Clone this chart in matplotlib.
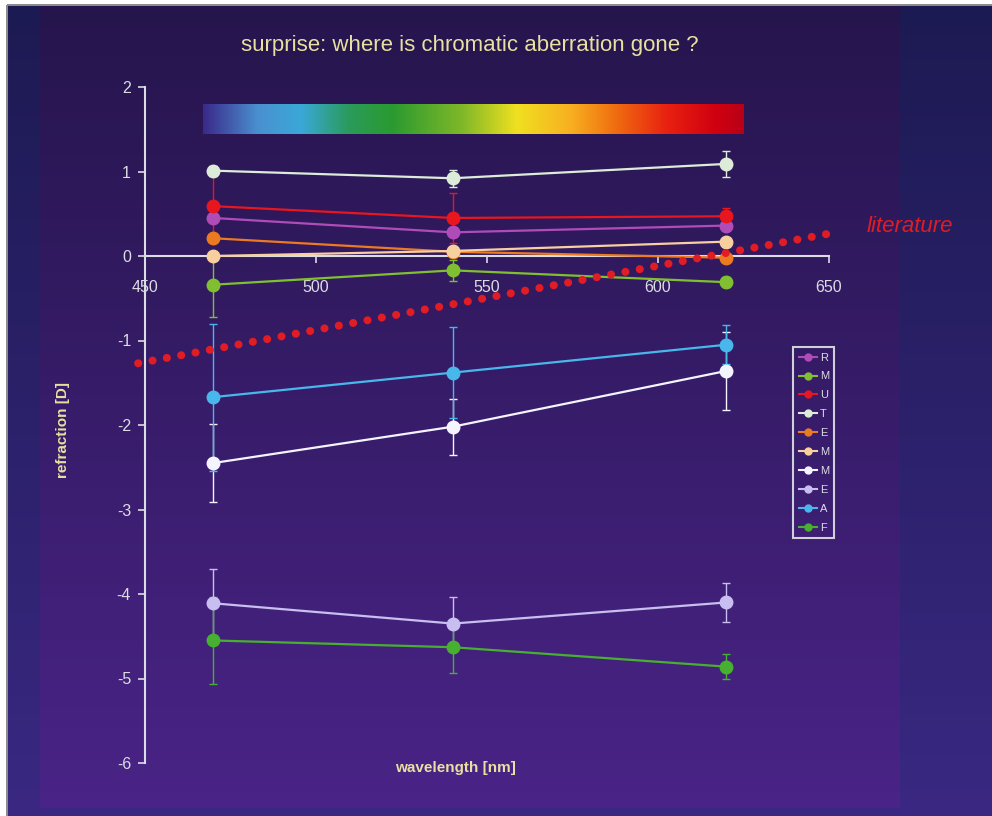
import numpy as np
import matplotlib
matplotlib.use("Agg")
import matplotlib.pyplot as plt
from matplotlib.colors import LinearSegmentedColormap, to_rgb
from matplotlib.lines import Line2D

plt.rcParams['font.family'] = ['Liberation Sans', 'DejaVu Sans']
plt.rcParams['axes.unicode_minus'] = False

# Data
wavelength = [470, 540, 620]
labels = ['R', 'M', 'U', 'T', 'E', 'M', 'M', 'E', 'A', 'F']
colors = ['#b04cb8', '#80c030', '#e8161e', '#dcecd8', '#ec7a20',
          '#f8d0a0', '#f4f4ff', '#c8bef0', '#48b8ec', '#48b030']
values = [
    [0.45, 0.28, 0.36],
    [-0.34, -0.17, -0.31],
    [0.59, 0.45, 0.47],
    [1.01, 0.92, 1.09],
    [0.21, 0.05, -0.02],
    [0.00, 0.06, 0.17],
    [-2.45, -2.02, -1.36],
    [-4.11, -4.35, -4.10],
    [-1.67, -1.38, -1.05],
    [-4.55, -4.63, -4.86],
]
errors = [
    [0.05, 0.05, 0.05],
    [0.38, 0.12, 0.06],
    [0.42, 0.30, 0.10],
    [0.06, 0.10, 0.15],
    [0.04, 0.04, 0.04],
    [0.04, 0.04, 0.04],
    [0.46, 0.33, 0.46],
    [0.41, 0.31, 0.23],
    [0.87, 0.54, 0.23],
    [0.51, 0.31, 0.15],
]
# literature line (end points)
lit_x = [448, 652]
lit_y = [-1.27, 0.28]

txt_col = '#e8e0a0'
tick_col = '#dcdce4'

fig = plt.figure(figsize=(9.92, 8.16), dpi=100, facecolor='white')

# background slide (gradient)
H, W = 816, 992
img = np.ones((H, W, 3))
t = np.linspace(0, 1, H)[:, None]
outer_top, outer_bot = np.array(to_rgb('#1c1a52')), np.array(to_rgb('#3a2882'))
panel_top, panel_bot = np.array(to_rgb('#25154c')), np.array(to_rgb('#4a2488'))
outer = outer_top + (outer_bot - outer_top) * t
panel = panel_top + (panel_bot - panel_top) * t
img[5:, 7:, :] = outer[5:, None, :]
img[5:808, 40:900, :] = panel[5:808, None, :]
img[4:6, 7:, :] = 0.55
img[5:, 6:8, :] = 0.55
bg = fig.add_axes([0, 0, 1, 1], zorder=-1)
bg.imshow(img, extent=[0, 1, 0, 1], aspect='auto')
bg.axis('off')

ax = fig.add_axes([145 / 992, 1 - 763 / 816, 684 / 992, 676 / 816])
ax.set_facecolor('none')
ax.set_xlim(450, 650)
ax.set_ylim(-6, 2)

# rainbow bar
rainbow = LinearSegmentedColormap.from_list('spec', [
    (0.00, '#3a2a8a'), (0.10, '#4a90d0'), (0.18, '#3aa8d8'), (0.27, '#2a9a5a'),
    (0.35, '#2a9a30'), (0.48, '#80b828'), (0.58, '#f0e020'), (0.68, '#f8b020'),
    (0.76, '#f07010'), (0.86, '#e82010'), (0.95, '#d00010'), (1.00, '#b80018')])
ax.imshow(np.linspace(0, 1, 256)[None, :], cmap=rainbow, aspect='auto',
          extent=[467, 625, 1.44, 1.79], zorder=1)

# series
for lab, col, val, err in zip(labels, colors, values, errors):
    ax.errorbar(wavelength, val, yerr=err, color=col, lw=1.6, marker='o', ms=9,
                elinewidth=1, capsize=3, capthick=1, zorder=3, label=lab)

# literature
ax.plot(lit_x, lit_y, color='#e01c24', lw=5.8, dashes=(0.01, 1.8),
        dash_capstyle='round', clip_on=False, zorder=4)
fig.text(0.917, 1 - 227 / 816, 'literature', color='#e01c24', fontsize=16,
         style='italic', ha='center', va='center')

# axes styling
for s in ['top', 'right']:
    ax.spines[s].set_visible(False)
ax.spines['bottom'].set_position(('data', 0))
ax.spines['bottom'].set_color(tick_col)
ax.spines['left'].set_color(tick_col)
ax.spines['bottom'].set_linewidth(1.5)
ax.spines['left'].set_linewidth(1.5)
ax.set_xticks([450, 500, 550, 600, 650])
ax.set_yticks([-6, -5, -4, -3, -2, -1, 0, 1, 2])
ax.tick_params(axis='x', colors=tick_col, labelsize=11.5, direction='out',
               length=5, pad=12, width=1.2)
ax.tick_params(axis='y', colors=tick_col, labelsize=11.5, direction='out',
               length=5, pad=5, width=1.2)

fig.text(470 / 992, 1 - 45 / 816, 'surprise: where is chromatic aberration gone ?',
         color=txt_col, fontsize=16, ha='center', va='center')
fig.text(63 / 992, 1 - 430 / 816, 'refraction [D]', color=txt_col, fontsize=11,
         fontweight='bold', rotation=90, ha='center', va='center')
fig.text(455 / 992, 1 - 768 / 816, 'wavelength [nm]', color=txt_col, fontsize=11,
         fontweight='bold', ha='center', va='center')

handles = [Line2D([], [], color=c, lw=1.5, marker='o', ms=5) for c in colors]
leg = ax.legend(handles, labels, loc='upper left',
                bbox_to_anchor=(793 / 992, 1 - 347 / 816),
                bbox_transform=fig.transFigure, fontsize=8, labelspacing=0.8,
                handlelength=1.7, handletextpad=0.2, borderpad=0.5,
                borderaxespad=0, fancybox=False, framealpha=1)
leg.get_frame().set_facecolor('none')
leg.get_frame().set_edgecolor('#d0d0d8')
leg.get_frame().set_linewidth(1.5)
for tx in leg.get_texts():
    tx.set_color(tick_col)

fig.savefig('out.png', dpi=100, facecolor=fig.get_facecolor())
